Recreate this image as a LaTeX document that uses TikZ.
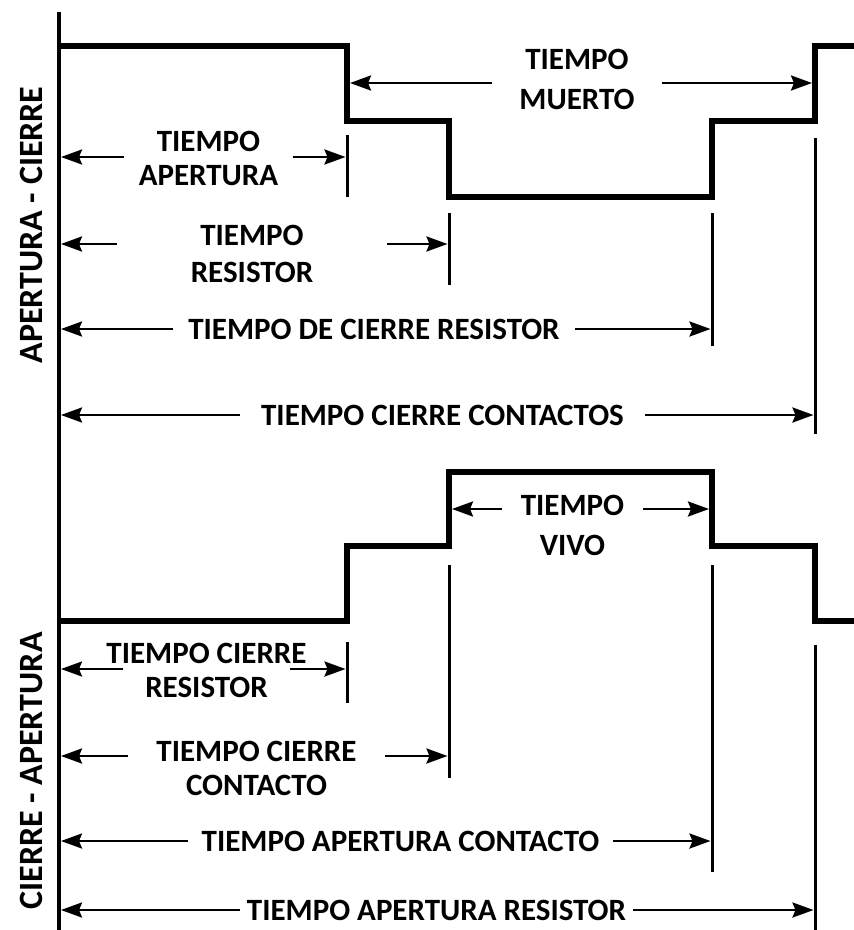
\documentclass[tikz,border=0pt]{standalone}
\usepackage{fontspec}
\setmainfont{Carlito}
\usetikzlibrary{arrows.meta}
\tikzstyle{dimline} = [line width=2.7pt,-{Stealth[length=21pt,width=15pt,inset=3pt]}]
\tikzstyle{wave} = [line width=5.5pt]
\tikzstyle{guide} = [line width=3pt]
\tikzstyle{lbl} = [align=center,inner sep=0pt,font=\fontsize{31}{37}\selectfont\bfseries]
\tikzstyle{side} = [rotate=90,anchor=base,inner sep=0pt,font=\fontsize{34}{40}\selectfont\bfseries]

\begin{document}
\begin{tikzpicture}[x=1pt,y=-1pt]
\useasboundingbox (0,0) rectangle (854,930);

% axis and side titles
\draw[line width=3.5pt] (59,12) -- (59,930);
\node[side] (ac) at (42,225) {APERTURA - CIERRE};
\node[side] (ca) at (42,771) {CIERRE - APERTURA};

% signals
\draw[wave] (59,46) -| (347,121) -| (449,197) -| (712,121) -| (815,46) -- (854,46);
\draw[wave] (59,621) -| (347,546) -| (449,472) -| (712,546) -| (815,621) -- (854,621);

% guide lines
\foreach \x/\a/\b in {347/135/197, 449/213/285, 712/213/346, 815/138/434,
                      347/642/703, 449/565/778, 712/565/872, 815/645/930}
  \draw[guide] (\x,\a) -- (\x,\b);

% upper times
\coordinate (muertoL) at (350,83);
\coordinate (muertoR) at (812,83);
\node[lbl, minimum width=170pt, font=\fontsize{31}{40}\selectfont\bfseries] (muerto) at (577,79) {TIEMPO\\MUERTO};
\draw[dimline] (muerto.west |- muertoL) -- (muertoL);
\draw[dimline] (muerto.east |- muertoR) -- (muertoR);

\coordinate (apertL) at (61,157);
\coordinate (apertR) at (345.5,157);
\node[lbl, minimum width=169pt, font=\fontsize{31}{34}\selectfont\bfseries] (apert) at (208.5,158) {TIEMPO\\APERTURA};
\draw[dimline] (apert.west |- apertL) -- (apertL);
\draw[dimline] (apert.east |- apertR) -- (apertR);

\coordinate (resL) at (61,244);
\coordinate (resR) at (447.5,244);
\node[lbl, minimum width=270pt] (res) at (252,254) {TIEMPO\\RESISTOR};
\draw[dimline] (res.west |- resL) -- (resL);
\draw[dimline] (res.east |- resR) -- (resR);

\coordinate (cresL) at (61,329);
\coordinate (cresR) at (710.5,329);
\node[lbl, minimum width=402pt] (cres) at (374,329) {TIEMPO DE CIERRE RESISTOR};
\draw[dimline] (cres.west |- cresL) -- (cresL);
\draw[dimline] (cres.east |- cresR) -- (cresR);

\coordinate (ccL) at (61,415);
\coordinate (ccR) at (813.5,415);
\node[lbl, minimum width=405pt] (cc) at (442.5,415) {TIEMPO CIERRE CONTACTOS};
\draw[dimline] (cc.west |- ccL) -- (ccL);
\draw[dimline] (cc.east |- ccR) -- (ccR);

% lower times
\coordinate (vivoL) at (452,509);
\coordinate (vivoR) at (709,509);
\node[lbl, minimum width=141pt, font=\fontsize{31}{40}\selectfont\bfseries] (vivo) at (572.5,525) {TIEMPO\\VIVO};
\draw[dimline] (vivo.west |- vivoL) -- (vivoL);
\draw[dimline] (vivo.east |- vivoR) -- (vivoR);

\coordinate (tcrL) at (61,669);
\coordinate (tcrR) at (345.5,669);
\node[lbl, minimum width=167pt, font=\fontsize{31}{34}\selectfont\bfseries] (tcr) at (206.5,670) {\makebox[0pt]{TIEMPO CIERRE}\\RESISTOR};
\draw[dimline] (tcr.west |- tcrL) -- (tcrL);
\draw[dimline] (tcr.east |- tcrR) -- (tcrR);

\coordinate (tccL) at (61,756);
\coordinate (tccR) at (447.5,756);
\node[lbl, minimum width=257pt, font=\fontsize{31}{34}\selectfont\bfseries] (tcc) at (256.5,768) {TIEMPO CIERRE\\CONTACTO};
\draw[dimline] (tcc.west |- tccL) -- (tccL);
\draw[dimline] (tcc.east |- tccR) -- (tccR);

\coordinate (tacL) at (61,841);
\coordinate (tacR) at (710.5,841);
\node[lbl, minimum width=425pt] (tac) at (400.5,841) {TIEMPO APERTURA CONTACTO};
\draw[dimline] (tac.west |- tacL) -- (tacL);
\draw[dimline] (tac.east |- tacR) -- (tacR);

\coordinate (tarL) at (61,910);
\coordinate (tarR) at (813.5,910);
\node[lbl, minimum width=393pt] (tar) at (436.5,910) {TIEMPO APERTURA RESISTOR};
\draw[dimline] (tar.west |- tarL) -- (tarL);
\draw[dimline] (tar.east |- tarR) -- (tarR);
\end{tikzpicture}
\end{document}
